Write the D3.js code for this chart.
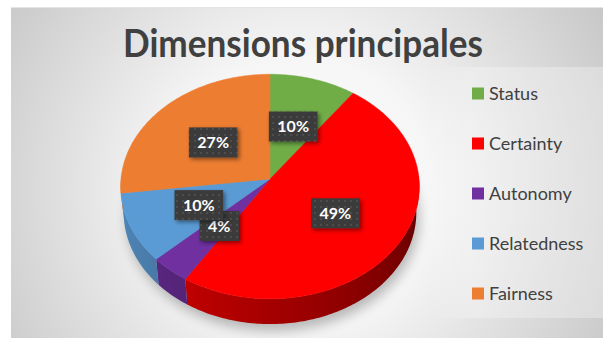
<!DOCTYPE html>
<html>
<head>
<meta charset="utf-8">
<script src="https://cdn.jsdelivr.net/npm/d3@7"></script>
<style>
  html, body { margin: 0; padding: 0; background: #ffffff; }
  svg { display: block; }
</style>
</head>
<body>
<svg id="chart" width="603" height="338"></svg>
<script>
// Chart data
const categories = ["Status", "Certainty", "Autonomy", "Relatedness", "Fairness"];
const values = [10, 49, 4, 10, 27];
const colors = ["#70ad47", "#ff0000", "#7030a0", "#5b9bd5", "#ed7d31"];
const title = "Dimensions principales";

const W = 603, H = 338;
const svg = d3.select("#chart");
const defs = svg.append("defs");

// Background gradient of the chart area
const bg = defs.append("radialGradient").attr("id", "bgGrad")
  .attr("gradientUnits", "userSpaceOnUse")
  .attr("cx", 300).attr("cy", 190).attr("r", 380);
bg.append("stop").attr("offset", 0).attr("stop-color", "#ffffff");
bg.append("stop").attr("offset", 0.35).attr("stop-color", "#f6f6f6");
bg.append("stop").attr("offset", 0.75).attr("stop-color", "#d6d6d6");
bg.append("stop").attr("offset", 1).attr("stop-color", "#c2c2c2");

svg.append("rect").attr("x", 11).attr("y", 7).attr("width", W - 11).attr("height", H - 7)
  .attr("fill", "url(#bgGrad)");
svg.append("line").attr("x1", 11).attr("x2", W).attr("y1", 7.5).attr("y2", 7.5)
  .attr("stroke", "#e4e4e4").attr("stroke-width", 1);

// Legend panel, fading in from the left
const lg = defs.append("linearGradient").attr("id", "legGrad")
  .attr("x1", 0).attr("x2", 1).attr("y1", 0).attr("y2", 0);
lg.append("stop").attr("offset", 0).attr("stop-color", "#ffffff").attr("stop-opacity", 0);
lg.append("stop").attr("offset", 0.25).attr("stop-color", "#ffffff").attr("stop-opacity", 0.25);
lg.append("stop").attr("offset", 1).attr("stop-color", "#ffffff").attr("stop-opacity", 0.3);
svg.append("rect").attr("x", 430).attr("y", 67).attr("width", W - 430).attr("height", 251)
  .attr("fill", "url(#legGrad)");

// Filters
const blur = defs.append("filter").attr("id", "pieShadow")
  .attr("x", "-20%").attr("y", "-20%").attr("width", "140%").attr("height", "140%");
blur.append("feGaussianBlur").attr("stdDeviation", 6);

const ds = defs.append("filter").attr("id", "boxShadow")
  .attr("x", "-30%").attr("y", "-30%").attr("width", "160%").attr("height", "160%");
ds.append("feDropShadow").attr("dx", 2).attr("dy", 2).attr("stdDeviation", 2)
  .attr("flood-color", "#000").attr("flood-opacity", 0.45);

// Dotted texture for label boxes
const pat = defs.append("pattern").attr("id", "dots")
  .attr("patternUnits", "userSpaceOnUse").attr("width", 6).attr("height", 6);
pat.append("rect").attr("width", 6).attr("height", 6).attr("fill", "#3b3b3b");
pat.append("circle").attr("cx", 3).attr("cy", 3).attr("r", 0.9).attr("fill", "#565656");

// Title
svg.append("text")
  .attr("x", 303).attr("y", 57)
  .attr("text-anchor", "middle")
  .attr("font-family", "Lato, 'Noto Sans', sans-serif")
  .attr("font-weight", "bold")
  .attr("font-size", 39)
  .attr("fill", "#404040")
  .attr("textLength", 360).attr("lengthAdjust", "spacingAndGlyphs")
  .text(title);

// 3D projection of the pie disc
const cx = 270, cy = 179, R = 149;
const sinA = 0.75, cosA = 0.661, D = 9.86, depth = 0.27;
function proj(theta, r, Y) {
  const X = r * Math.sin(theta), Z = r * Math.cos(theta);
  const sy = Z * sinA + Y * cosA;
  const d = Z * cosA - Y * sinA;
  const f = D / (D + d);
  return [cx + R * X * f, cy - R * sy * f];
}

const pie = d3.pie().sort(null).value(d => d.value);
const arcs = pie(categories.map((c, i) => ({ name: c, value: values[i], color: colors[i] })));
const total = d3.sum(values);

function rimPoints(a0, a1, Y) {
  const n = Math.max(2, Math.ceil((a1 - a0) / (Math.PI / 180)));
  return d3.range(n + 1).map(k => proj(a0 + (a1 - a0) * k / n, 1, Y));
}
const line = d3.line();

// Shadow beneath the pie
const shadowPts = rimPoints(0, 2 * Math.PI, -depth);
svg.append("path")
  .attr("d", line(shadowPts) + "Z")
  .attr("transform", "translate(3,7)")
  .attr("fill", "#000").attr("opacity", 0.25)
  .attr("filter", "url(#pieShadow)");

// Outer walls of the front half, shaded by angle through a horizontal gradient
const wallG = svg.append("g");
const shade = d3.scaleLinear().domain([90, 215, 270]).range([0.36, 0.76, 0.9]).clamp(true);
const lo = Math.PI * 88 / 180, hi = Math.PI * 272 / 180;
arcs.forEach((a, i) => {
  const a0 = Math.max(a.startAngle, lo), a1 = Math.min(a.endAngle, hi);
  if (a1 <= a0) return;
  const top = rimPoints(a0, a1, 0);
  const bot = rimPoints(a0, a1, -depth).reverse();
  const xs = top.map(p => p[0]);
  const xMin = d3.min(xs), xMax = d3.max(xs);
  const gid = "wall" + i;
  const gr = defs.append("linearGradient").attr("id", gid)
    .attr("gradientUnits", "userSpaceOnUse")
    .attr("x1", xMin).attr("x2", xMax).attr("y1", 0).attr("y2", 0);
  const c = d3.rgb(a.data.color);
  const n = 24;
  const stops = d3.range(n + 1).map(k => {
    const t = a0 + (a1 - a0) * k / n;
    const x = proj(t, 1, 0)[0];
    const s = shade(t * 180 / Math.PI);
    return { off: (x - xMin) / Math.max(1e-6, xMax - xMin), col: d3.rgb(c.r * s, c.g * s, c.b * s).formatHex() };
  }).sort((p, q) => p.off - q.off);
  stops.forEach(s => gr.append("stop").attr("offset", s.off).attr("stop-color", s.col));
  wallG.append("path").attr("d", line(top.concat(bot)) + "Z")
    .attr("fill", `url(#${gid})`);
});

// Top faces
const topG = svg.append("g");
arcs.forEach(a => {
  const pts = [[cx, cy]].concat(rimPoints(a.startAngle, a.endAngle, 0));
  topG.append("path").attr("d", line(pts) + "Z")
    .attr("fill", a.data.color)
    .attr("stroke", a.data.color).attr("stroke-width", 0.5);
});

// Data labels
const fmt = d3.format(".0%");
const labG = svg.append("g");
arcs.forEach(a => {
  const mid = (a.startAngle + a.endAngle) / 2;
  const [lx, ly] = proj(mid, 0.52, 0);
  const g = labG.append("g");
  const t = g.append("text")
    .attr("x", lx).attr("y", ly + 5.5)
    .attr("text-anchor", "middle")
    .attr("font-family", "Lato, 'Noto Sans', sans-serif")
    .attr("font-weight", "bold")
    .attr("font-size", 16)
    .attr("fill", "#ffffff")
    .text(fmt(a.data.value / total));
  const tw = t.node().getComputedTextLength();
  const bw = tw + 17, bh = 30;
  g.insert("rect", "text")
    .attr("x", lx - bw / 2).attr("y", ly - bh / 2 + 1)
    .attr("width", bw).attr("height", bh)
    .attr("fill", "url(#dots)")
    .attr("filter", "url(#boxShadow)");
  t.attr("y", ly + 6.5);
});

// Legend
const legend = svg.append("g");
categories.forEach((c, i) => {
  const y = 93.5 + i * 50;
  legend.append("rect").attr("x", 472).attr("y", y - 6).attr("width", 12).attr("height", 12)
    .attr("fill", colors[i]);
  legend.append("text").attr("x", 489).attr("y", y + 6)
    .attr("font-family", "Lato, 'Noto Sans', sans-serif")
    .attr("font-size", 18)
    .attr("fill", "#404040")
    .text(c);
});
</script>
</body>
</html>
